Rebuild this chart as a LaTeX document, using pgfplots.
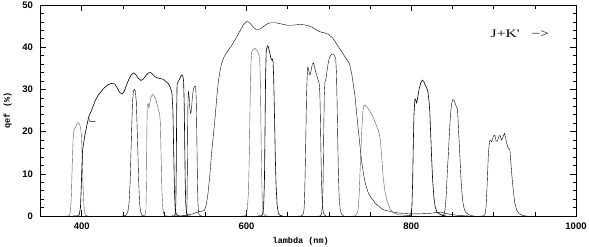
\documentclass[border=0pt]{standalone}
\usepackage{fontspec}
\usepackage{graphicx}
\usepackage{pgfplots}
\pgfplotsset{compat=1.18}
\newfontfamily\tickfont{Liberation Sans}
\newfontfamily\labfont{Liberation Mono}
\newfontfamily\serif{Liberation Serif}
\definecolor{curve}{HTML}{5A5A5A}
\begin{document}
\begin{tikzpicture}
\path[use as bounding box] (0,0) rectangle (589bp,247bp);
\begin{axis}[
  at={(40.5bp,31bp)}, anchor=south west,
  scale only axis, width=535.5bp, height=211bp,
  xmin=350, xmax=1000, ymin=0, ymax=50,
  xtick={400,600,800,1000},
  minor xtick={350,450,500,550,650,700,750,850,900,950},
  ytick={0,10,20,30,40,50},
  minor ytick={2,4,6,8,12,14,16,18,22,24,26,28,32,34,36,38,42,44,46,48},
  tick align=inside,
  major tick length=6bp, minor tick length=3.5bp,
  every tick/.style={black, line width=0.6bp},
  axis line style={black, line width=0.8bp},
  /pgf/number format/assume math mode=true,
  /pgf/number format/1000 sep={},
  ticklabel style={font=\tickfont\bfseries\fontsize{9.5bp}{11bp}\selectfont},
  yticklabel style={xshift=-4bp},
  xticklabel style={yshift=-3bp},
  xlabel={lambda (nm)}, ylabel={qef (\%)},
  xlabel style={at={(axis description cs:0.486,-0.1218)}, anchor=center, font=\labfont\bfseries\fontsize{8.5bp}{10bp}\selectfont},
  ylabel style={at={(axis description cs:-0.0616,0.5)}, anchor=center, font=\labfont\bfseries\fontsize{8.5bp}{10bp}\selectfont},
  cycle list={{curve, line width=0.6bp, smooth, tension=0.45}},
  no markers,
]
% A
\addplot coordinates {(380,0)(384,0)(385.5,0.3)(386.5,1.5)(387.5,5)(388.5,12)(389.5,18)(390.5,20.3)(392,20.8)(394,21.7)(396,22.1)(397.5,21.8)(398.7,20.8)(399.5,19.6)(400.5,15)(401.5,8)(402.5,3)(403.5,0.8)(405,0.1)(408,0)};
% B broad
\addplot coordinates {(390,0)(395,0)(397,0.3)(398.5,2)(399.5,7)(400.3,12)(401,15.4)(402.5,17.5)(404,19.3)(406.4,21.6)(408.5,23.5)(412.5,25.3)(416.5,27.4)(420,28.6)(424,29.6)(428,30.5)(432,31.1)(436,31.4)(440,31.3)(443,30.4)(446,29.3)(449,28.9)(451.5,29.5)(454,30.8)(457,32.3)(460,33.4)(463,33.9)(466,33.4)(469,32.6)(472,32.1)(475,32.5)(478,33.3)(481,33.9)(483.5,34.0)(486,33.6)(489,33.0)(492,32.7)(495,32.6)(499,32.4)(502,31.9)(505,31.4)(507.5,30.5)(509.5,29.3)(510.7,25)(511.7,15)(512.6,6)(513.5,1.5)(515,0.3)(518,0)};
% dash
\addplot[curve, line width=0.6bp, sharp plot] coordinates {(408.6,23.3)(409.8,22.4)(416.5,22.4)};
% C
\addplot coordinates {(448,0)(451,0)(454,0.2)(456,1)(457.5,3)(458.8,8)(459.8,15)(460.7,21)(461.7,27)(462.8,29.6)(464,30)(465.2,29.5)(466.3,27)(467.3,21)(468.2,15)(469.2,8)(470.3,3)(471.5,1)(473,0.2)(476,0)};
% D
\addplot coordinates {(472,0)(475,0)(477,0.2)(478,1.5)(478.6,8)(479.1,20)(479.6,26.3)(480.6,26.6)(481.5,25.6)(482.5,26.5)(484,28.2)(486,28.8)(488,28.5)(490,27.6)(491.5,26.5)(493,25.2)(494.5,24.4)(495.5,22)(496.3,15)(497.2,7)(498.2,2.5)(499.3,0.6)(501,0.1)(504,0)};
% E
\addplot coordinates {(509,0)(512,0)(513.5,0.3)(514.3,3)(514.8,12)(515.3,25)(515.8,31.2)(517,31.8)(518.5,32.3)(520,33)(521.5,33.4)(522.7,33.3)(523.7,32)(524.4,27)(525,18)(525.6,9)(526.3,3)(527.2,0.8)(529,0)(532,0)};
% F
\addplot coordinates {(522,0)(525.5,0)(527,0.3)(527.8,3)(528.3,12)(528.8,24)(529.4,29.3)(530.3,28.5)(531.3,25.5)(532.3,24.3)(533.3,25.5)(534.5,28.5)(536,30.3)(537.5,30.8)(538.5,30)(539.2,26)(539.8,18)(540.4,10)(541,4)(541.8,1)(543,0.2)(546,0)};
% G broad
\addplot coordinates {(515,0)(525,0.1)(535,0.5)(540,0.9)(545,1.1)(549,1.3)(551,2.5)(553,4.8)(555.5,9.5)(557.7,15)(560,19.5)(562,23.5)(564,28.2)(566,32)(568,34.5)(570,36.2)(573,37.8)(578,39.3)(582,40.4)(586,41.7)(590,43.1)(594,44.5)(597,45.5)(600.5,46.1)(603,45.9)(606,45.3)(609,44.6)(612,44.2)(615,44.2)(618,44.5)(622,45.1)(626,45.6)(630,45.8)(635,45.8)(640,45.6)(645,45.4)(650,45.2)(655,45.2)(660,45.3)(665,45.4)(670,45.3)(675,45.1)(680,44.7)(685,44.1)(690,43.6)(695,43.4)(700,43.0)(705,42.1)(710,40.6)(715,39.1)(720,37.6)(724.8,36.2)(727.7,33.8)(731.7,28.5)(735.7,20.5)(739.5,13.5)(742,10)(744.5,7.5)(748,5.4)(752,4.2)(756,3.1)(760,2.4)(766,1.5)(774,1.1)(782,0.8)(790,0.6)(800,0.5)(810,0.5)(820,0.6)(830,0.8)(836,0.9)(842,0.6)(850,0.3)(860,0.1)(870,0)};
% H
\addplot coordinates {(594,0)(597,0)(599.5,0.3)(601,1.5)(602.5,6)(603.5,15)(604.5,28)(605.5,36.5)(606.5,39)(608.5,39.4)(610.3,39.7)(612,39.4)(613.5,39)(614.5,38.6)(615.5,37.8)(616.3,36)(617,30)(617.7,20)(618.4,10)(619.2,3.5)(620.3,1)(622,0.2)(625,0)};
% I
\addplot coordinates {(614,0)(617,0)(619.5,0.3)(620.8,2)(621.8,8)(622.5,20)(623.2,33)(624,39.2)(625.3,40.3)(626.5,40.1)(627.5,39.3)(628.5,38.5)(629.5,37.5)(630.6,37.0)(631.5,37.2)(632.3,36.5)(633,33)(634,24)(635,14)(636,7)(637.2,2.5)(638.8,0.6)(641,0.1)(644,0)};
% J
\addplot coordinates {(663,0)(666,0)(668.5,0.3)(670,2)(671,8)(672,18)(673,29)(674.3,35)(675.5,34.5)(677,33.4)(678.5,34.5)(680,36)(681.3,36.3)(682.5,35.5)(684,34.2)(685.5,33.2)(687,32.2)(688.3,31.4)(689.2,28)(690,20)(690.8,11)(691.7,5)(692.8,1.5)(694.5,0.3)(697,0)};
% K
\addplot coordinates {(686,0)(689,0)(691,0.3)(692.2,2)(693,8)(693.8,20)(694.5,29)(695.3,31.8)(696.5,32.5)(697.5,34)(699,36)(700.5,37.4)(702,38)(703.5,38.3)(705.4,38.4)(706.8,38)(708.3,37.4)(709.2,34)(710,27)(710.8,18)(711.6,10)(712.5,4.5)(713.8,1.5)(715.5,0.4)(718,0)};
% L
\addplot coordinates {(728,0)(731,0)(733.5,0.3)(735.5,1.5)(736.8,5)(737.8,10.1)(738.8,15)(739.8,19.6)(740.8,23.5)(741.8,25.8)(743,26.3)(744.5,26.2)(747,25.6)(750,24.8)(753,23.7)(756,22.3)(758,21.3)(760,20.3)(761.5,19.3)(762.5,18)(764,14.5)(766,9)(768,6)(770,4)(774,1.8)(778,0.8)(785,0.3)(795,0.1)(800,0)};
% M
\addplot coordinates {(794,0)(797,0)(799.5,0.3)(800.8,2)(801.7,8)(802.5,17)(803.3,24)(804.5,27.7)(805.5,27.5)(806.6,26.8)(807.8,28)(809.5,30)(811.5,31.5)(813.5,32.2)(815.5,31.8)(817,31)(818.7,30.4)(820.2,29.5)(821.5,27.5)(822.5,25)(823.5,20)(824.7,14)(826,8.5)(827.5,4.5)(829,2.2)(831,1)(834,0.5)(838,0.2)(842,0)};
% N
\addplot coordinates {(834,0)(837,0)(839.5,0.3)(841,1.5)(842.5,5)(843.7,10)(845,14.5)(846.2,19)(847.5,23.5)(849,26.5)(850.5,27.6)(852,27.4)(853.5,26.6)(855,25.8)(856.2,25)(857.5,20)(859.1,14)(860.5,8.5)(862.4,3.8)(864.5,1.6)(867,0.7)(871,0.2)(876,0)};
% O
\addplot coordinates {(884,0)(887,0)(889.5,0.3)(890.8,2)(891.8,6)(892.7,10)(893.5,14.1)(894.5,16.8)(895.5,18)(897.5,17.6)(900,19)(901.5,19.1)(903,17.8)(904.5,17.7)(906.5,18.9)(907.8,19.1)(909.5,18.0)(911,18.5)(913,19.6)(914.3,18.8)(915.8,17.3)(917.5,16.2)(919.8,15.6)(921,12.5)(922.2,9.5)(923.8,6.2)(925.5,3.3)(928,1.4)(931,0.5)(936,0.1)(940,0)};
\node[anchor=center, font=\serif\fontsize{11.5bp}{13bp}\selectfont, inner sep=0pt] at (axis cs:932,43.2) {\scalebox{1.35}[1]{J+K'\hspace{9bp}−>}};
\end{axis}
\end{tikzpicture}
\end{document}
